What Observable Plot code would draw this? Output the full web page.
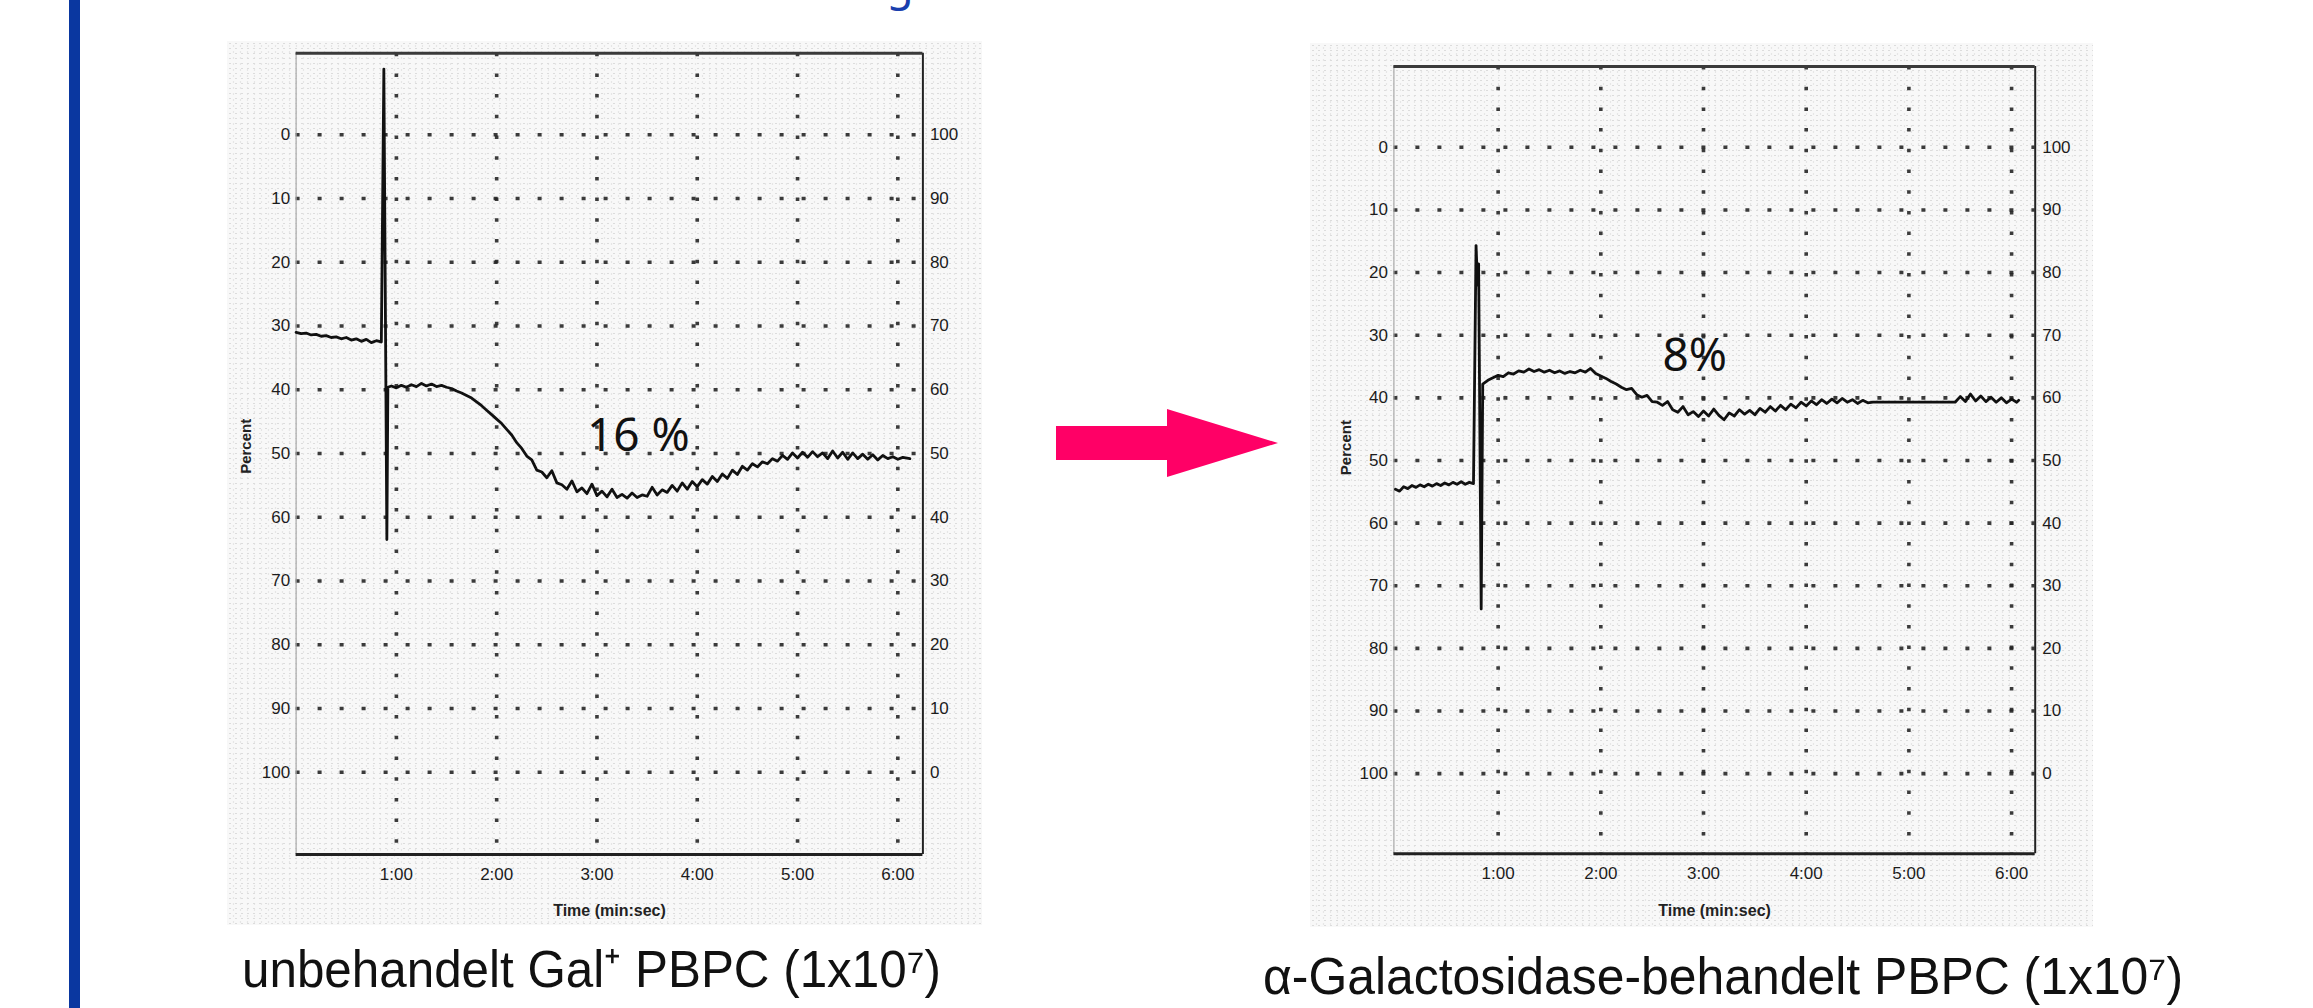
<!DOCTYPE html>
<html>
<head>
<meta charset="utf-8">
<script src="https://cdn.jsdelivr.net/npm/d3@7"></script>
<script src="https://cdn.jsdelivr.net/npm/@observablehq/plot@0.6"></script>
<style>
  html, body { margin: 0; padding: 0; background: #fff; }
  #page { position: relative; width: 2313px; height: 1008px; overflow: hidden; background: #fff; }
  .paper { position: absolute; background-color: #f8f8f8;
    background-image: radial-gradient(#dcdcdc 0.8px, transparent 1.2px), radial-gradient(#e6e6e6 0.8px, transparent 1.2px);
    background-size: 6px 5px, 7px 6px; background-position: 0 0, 3px 2px; }
  .chart { position: absolute; }
  .chart svg { max-width: none; }
  #overlay { position: absolute; left: 0; top: 0; }
</style>
</head>
<body>
<div id="page">
  <div class="paper" style="left:227px;top:41px;width:755px;height:884px"></div>
  <div class="paper" style="left:1310px;top:43px;width:783px;height:884px"></div>
  <div class="chart" id="left" style="left:200px;top:0px;width:800px;height:940px"></div>
  <div class="chart" id="right" style="left:1300px;top:0px;width:820px;height:940px"></div>
  <svg id="overlay" width="2313" height="1008"></svg>
</div>
<script>
// ---------- data ----------
// time in minutes, "Percent" on the left axis (0 at top, 100 at bottom)
const leftTime = [0,0.05,0.1,0.15,0.2,0.25,0.3,0.35,0.4,0.45,0.5,0.55,0.6,0.65,0.7,0.75,0.8,0.85,
  0.875,0.905,0.915,
  0.95,1.0,1.05,1.1,1.15,1.2,1.25,1.3,1.35,1.4,1.45,1.5,1.55,
  1.6,1.65,1.7,1.75,1.8,1.85,1.9,1.95,2.0,2.05,2.1,2.15,2.2,2.25,2.3,2.35,2.4,2.45,2.5,2.55,2.6,2.65,2.7,2.75,2.8,2.85,2.9,2.95,
  3.0,3.05,3.1,3.15,3.2,3.25,3.3,3.35,3.4,3.45,3.5,3.55,3.6,3.65,3.7,3.75,3.8,3.85,3.9,3.95,
  4.0,4.05,4.1,4.15,4.2,4.25,4.3,4.35,4.4,4.45,4.5,4.55,4.6,4.65,4.7,4.75,4.8,4.85,4.9,4.95,
  5.0,5.05,5.1,5.15,5.2,5.25,5.3,5.35,5.4,5.45,5.5,5.55,5.6,5.65,5.7,5.75,5.8,5.85,5.9,5.95,6.0,6.05,6.12];
const leftPercent = [31.0,31.2,31.1,31.4,31.3,31.6,31.5,31.8,31.7,32.0,31.8,32.2,32.0,32.4,32.1,32.6,32.3,32.5,
  -10.3,63.5,39.6,
  39.4,39.7,39.3,39.6,39.2,39.5,39.0,39.4,39.1,39.5,39.3,39.6,39.8,
  40.2,40.5,40.9,41.3,41.9,42.5,43.2,43.9,44.6,45.3,46.2,47.1,48.3,49.2,50.4,51.0,52.6,52.9,53.8,52.7,54.6,54.9,55.6,54.3,56.0,55.4,56.3,54.8,
  56.6,55.9,56.8,55.6,56.9,56.4,57.0,56.2,56.9,56.5,56.7,55.3,56.5,55.7,56.1,55.0,55.9,54.6,55.6,54.4,
  55.2,54.1,54.8,53.6,54.4,53.2,53.9,52.6,53.3,52.0,52.6,51.6,52.1,51.3,51.6,50.8,51.2,50.3,50.9,49.9,
  50.7,49.8,50.6,49.7,50.5,49.9,50.8,49.6,50.7,49.8,50.9,49.9,50.8,50.1,50.9,50.2,51.0,50.3,50.8,50.5,50.9,50.6,50.8];

const rightTime = [0,0.04,0.08,0.12,0.16,0.2,0.24,0.28,0.32,0.36,0.4,0.44,0.48,0.52,0.56,0.6,0.64,0.68,0.72,0.76,
  0.785,0.8,0.81,0.835,0.85,
  0.9,0.95,1.0,1.05,1.1,1.15,1.2,1.25,1.3,1.35,1.4,1.45,1.5,1.55,1.6,1.65,1.7,1.75,1.8,1.85,1.9,1.95,
  2.0,2.05,2.1,2.15,2.2,2.25,2.3,2.35,2.4,2.45,2.5,2.55,2.6,2.65,2.7,2.75,2.8,2.85,2.9,2.95,
  3.0,3.05,3.1,3.15,3.2,3.25,3.3,3.35,3.4,3.45,3.5,3.55,3.6,3.65,3.7,3.75,3.8,3.85,3.9,3.95,
  4.0,4.05,4.1,4.15,4.2,4.25,4.3,4.35,4.4,4.45,4.5,4.55,4.6,4.65,
  5.45,5.5,5.55,5.6,5.65,5.7,5.75,5.8,5.85,5.9,5.95,6.0,6.05,6.07];
const rightPercent = [54.6,54.9,54.2,54.5,54.0,54.3,53.9,54.2,53.8,54.1,53.7,54.0,53.6,53.9,53.5,53.8,53.4,53.8,53.5,53.7,
  15.7,22.0,18.6,73.7,37.8,
  37.2,36.8,36.4,36.6,36.0,36.2,35.7,35.9,35.4,35.8,35.5,35.9,35.6,36.0,35.7,36.1,35.8,36.0,35.6,35.9,35.3,36.1,
  36.5,36.9,37.4,37.8,38.3,38.7,38.5,39.5,39.9,39.6,40.6,40.7,41.2,40.6,41.9,42.3,41.4,42.7,42.2,43.0,
  42.1,42.9,41.8,42.8,43.5,42.4,42.9,41.9,42.6,42.0,42.7,41.7,42.3,41.4,42.1,41.2,41.9,41.0,41.6,40.7,
  41.3,40.5,41.1,40.3,40.9,40.2,40.8,40.1,40.7,40.3,40.9,40.4,40.8,40.7,
  40.7,39.8,40.6,39.4,40.5,39.7,40.6,39.9,40.7,40.0,40.8,40.2,40.7,40.4];

const gridPercent = [0,10,20,30,40,50,60,70,80,90,100];
const gridMinutes = [1,2,3,4,5,6];
const minuteLabels = ["1:00","2:00","3:00","4:00","5:00","6:00"];
const yTitle = "Percent";
const xTitle = "Time (min:sec)";
const leftNote = "16 %";
const rightNote = "8%";
const leftCaption = "unbehandelt Gal\u207A PBPC (1x10\u2077)";
const rightCaption = "\u03B1-Galactosidase-behandelt PBPC (1x10\u2077)";
const titleFragment = "g";

// ---------- chart builder ----------
function buildChart(o) {
  const data = o.time.map((t, i) => ({t, p: o.pct[i]}));
  const gridStyle = {stroke: "#262626", strokeWidth: 3.6, strokeOpacity: 0.9};
  return Plot.plot({
    width: o.width, height: o.height,
    marginLeft: o.m[0], marginRight: o.m[1], marginTop: o.m[2], marginBottom: o.m[3],
    style: {fontFamily: "'Liberation Sans', Arial, sans-serif", fontSize: "17px", color: "#1c1c1c", background: "transparent", overflow: "visible"},
    x: {domain: o.xDomain},
    y: {domain: o.yDomain, reverse: true},
    marks: [
      Plot.gridY(gridPercent, {...gridStyle, strokeDasharray: "4 18"}),
      Plot.gridX(gridMinutes, {...gridStyle, strokeDasharray: "3.5 17.2"}),
      Plot.ruleX([o.xDomain[0]], {stroke: "#a8a8a8", strokeWidth: 1.2}),
      Plot.ruleX([o.xDomain[1]], {stroke: "#222", strokeWidth: 2}),
      Plot.ruleY([o.yDomain[0]], {stroke: "#3a3a3a", strokeWidth: 3}),
      Plot.ruleY([o.yDomain[1]], {stroke: "#222", strokeWidth: 3}),
      Plot.axisY(gridPercent, {anchor: "left", tickSize: 0, tickPadding: 6, label: null}),
      Plot.axisY(gridPercent, {anchor: "right", tickSize: 0, tickPadding: 7, label: null, tickFormat: d => String(100 - d)}),
      Plot.axisX(gridMinutes, {anchor: "bottom", tickSize: 0, tickPadding: 13, label: null, tickFormat: d => minuteLabels[d - 1]}),
      Plot.line(data, {x: "t", y: "p", stroke: "#111", strokeWidth: 2.8, strokeLinejoin: "round"}),
      Plot.text([yTitle], {text: d => d, frameAnchor: "left", rotate: -90, dx: o.yTitleDx, dy: o.yTitleDy, fontSize: 15, fontWeight: "bold", fill: "#222"}),
      Plot.text([xTitle], {text: d => d, frameAnchor: "bottom", dy: o.xTitleDy, fontSize: 16, fontWeight: "bold", fill: "#222"}),
      Plot.text([o.note], {text: d => d, x: o.noteT, y: o.noteP, textAnchor: "start", fontSize: 46, fontFamily: "'Noto Sans', sans-serif", fill: "#111"})
    ]
  });
}

document.getElementById("left").append(buildChart({
  time: leftTime, pct: leftPercent, width: 800, height: 940,
  m: [95.6, 77.6, 52.7, 86], xDomain: [0, 6.25], yDomain: [-12.8, 112.9],
  yTitleDx: -50, yTitleDy: 20, xTitleDy: 61,
  note: leftNote, noteT: 2.9, noteP: 47.3
}));
document.getElementById("right").append(buildChart({
  time: rightTime, pct: rightPercent, width: 820, height: 940,
  m: [93.4, 85.3, 66, 86.7], xDomain: [-0.015, 6.23], yDomain: [-12.9, 112.8],
  yTitleDx: -48, yTitleDy: 15, xTitleDy: 62,
  note: rightNote, noteT: 2.6, noteP: 33.3
}));

// ---------- slide decorations ----------
const NS = "http://www.w3.org/2000/svg";
const ov = document.getElementById("overlay");
function el(tag, attrs, parent) {
  const e = document.createElementNS(NS, tag);
  for (const k in attrs) e.setAttribute(k, attrs[k]);
  (parent || ov).appendChild(e);
  return e;
}
el("rect", {x: 69, y: 0, width: 11, height: 1008, fill: "#0a37a0"});
el("polygon", {points: "1056,426 1167,426 1167,409 1278,443 1167,477 1167,460 1056,460", fill: "#ff0066"});
const g = el("text", {x: 900, y: 0, "text-anchor": "middle", "font-family": "'Noto Sans',sans-serif", "font-size": 44, fill: "#1a3fae"});
g.textContent = titleFragment;

function caption(str, x, y, len) {
  const t = el("text", {x, y, "font-family": "'Liberation Sans Narrow','Liberation Sans',Arial,sans-serif", "font-size": 52, fill: "#111", textLength: len, lengthAdjust: "spacingAndGlyphs"});
  t.textContent = str;
}
caption(leftCaption, 242, 987, 699);
caption(rightCaption, 1263, 994, 920);
</script>
</body>
</html>
